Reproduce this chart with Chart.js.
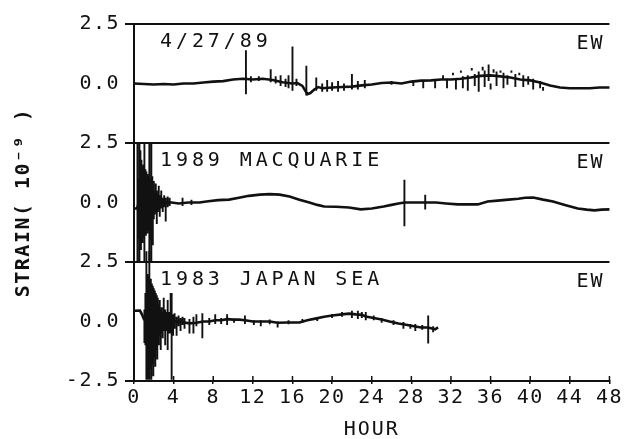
<!DOCTYPE html>
<html lang="en">
<head>
  <meta charset="UTF-8">
  <title>Strain records, EW component</title>
  <script src="https://cdn.jsdelivr.net/npm/chart.js@4.4.3/dist/chart.umd.min.js"></script>
  <style>
    html, body { margin: 0; padding: 0; background: #fff; }
    canvas { display: block; }
  </style>
</head>
<body>
  <canvas id="strain" width="625" height="439"></canvas>
  <script>
    // tick labels / texts
    const hourTicks = [0, 4, 8, 12, 16, 20, 24, 28, 32, 36, 40, 44, 48];
    const strainTicks = [-2.5, 0, 2.5];
    const panelTitles = ['4/27/89', '1989 MACQUARIE', '1983 JAPAN SEA'];
    const component = 'EW';
    const xTitle = 'HOUR';
    const yTitle = 'STRAIN( 10\u207B\u2079 )';

    // --- 4/27/89: slow trace + short vertical spikes (hour, top, bottom) ---
    const apr89Hour = [
      0, 1, 2, 3, 4, 5, 6, 7, 8, 9, 10, 11, 12, 13, 14, 15, 16, 16.5, 17, 17.5,
      17.8, 18.2, 18.6, 19, 20, 21, 22, 23, 24, 25, 26, 27, 28, 29, 30, 31, 32, 33, 34, 35,
      36, 37, 38, 39, 40, 41, 42, 43, 44, 45, 46, 47, 48
    ];
    const apr89Strain = [
      0, -0.02, -0.04, -0.02, -0.04, 0, 0, 0.04, 0.08, 0.1, 0.17, 0.2, 0.17, 0.2, 0.15, 0.05, 0, 0.02, -0.1, -0.45,
      -0.4, -0.25, -0.15, -0.2, -0.17, -0.15, -0.13, -0.08, -0.04, 0.02, 0.04, 0, 0.08, 0.12, 0.13, 0.17, 0.17, 0.2, 0.25, 0.32,
      0.34, 0.3, 0.25, 0.17, 0.13, 0.04, -0.08, -0.17, -0.2, -0.2, -0.2, -0.17, -0.17
    ];
    const apr89SpikeHour = [
      11.3, 11.8, 12.6, 13.8, 14.3, 14.8, 15.3, 15.6, 16.0, 16.4, 17.4, 18.4, 19.0, 19.5, 20.0, 20.6, 21.2, 22.0, 22.6, 23.3,
      26.0, 28.2, 29.2, 30.4, 31.2, 31.6, 32.2, 32.5, 33.0, 33.2, 33.7, 34.1, 34.4, 34.8, 35.2, 35.4, 35.8, 36.0, 36.3, 36.6,
      37.0, 37.3, 37.7, 38.1, 38.5, 38.9, 39.3, 39.8, 40.3, 41.0, 41.3
    ];
    const apr89SpikeTop = [
      1.4, 0.3, 0.3, 0.6, 0.3, 0.35, 0.2, 0.35, 1.55, 0.2, 0.75, 0.25, 0, 0.15, 0.05, 0.1, 0, 0.4, 0.1, 0.15,
      0.1, 0.15, 0.1, 0.15, 0.35, 0.2, 0.45, 0.2, 0.55, 0.3, 0.35, 0.65, 0.4, 0.5, 0.7, 0.55, 0.8, 0, 0.6, 0.5,
      0.55, 0.45, 0.35, 0.55, 0.4, 0.45, 0.35, 0.3, 0.2, 0.1, -0.15
    ];
    const apr89SpikeLow = [
      -0.45, 0.05, 0.1, 0.05, 0, -0.1, -0.15, -0.2, -0.3, -0.1, -0.5, -0.3, -0.35, -0.35, -0.3, -0.35, -0.3, -0.25, -0.25, -0.2,
      -0.05, -0.1, -0.2, -0.2, 0.15, -0.2, 0.35, -0.25, 0.45, -0.2, -0.3, 0.55, -0.1, -0.35, 0.55, -0.15, 0.1, -0.25, 0.45, -0.1,
      0.45, -0.2, -0.05, 0.45, -0.15, 0.35, -0.15, -0.05, -0.25, -0.2, -0.3
    ];

    // --- 1989 Macquarie ---
    const macqHour = [
      0, 0.3, 0.5, 3.8, 4.5, 5.5, 6.6, 7.5, 8.5, 9.6, 10.6, 11.6, 12.7, 13.7, 14.7, 15.7, 16.7, 17.7, 18.5, 19.2,
      20.4, 21.7, 22.9, 24, 25.2, 26, 26.7, 27.3, 28.2, 29.4, 30.5, 31.5, 32.7, 33.7, 34.7, 35.7, 36.7, 37.8, 38.8, 39.5,
      40.3, 41.3, 42.3, 43.5, 44.8, 45.7, 46.5, 47.2, 48
    ];
    const macqStrain = [
      -0.25, -0.25, 0, 0, -0.04, 0, 0, 0.05, 0.1, 0.12, 0.2, 0.28, 0.33, 0.35, 0.33, 0.25, 0.12, 0, -0.1, -0.17,
      -0.18, -0.21, -0.29, -0.25, -0.17, -0.1, -0.04, 0, 0, 0, 0, -0.04, -0.08, -0.08, -0.08, 0.04, 0.08, 0.12, 0.16, 0.2,
      0.21, 0.12, 0.04, -0.1, -0.25, -0.3, -0.33, -0.3, -0.29
    ];
    const macqSpikeHour = [
      0.35, 0.45, 0.55, 0.6, 0.65, 0.7, 0.75, 0.8, 0.85, 0.9, 0.95, 1.0, 1.05, 1.1, 1.15, 1.2, 1.25, 1.3, 1.35, 1.4,
      1.45, 1.5, 1.55, 1.6, 1.65, 1.7, 1.75, 1.8, 1.85, 1.9, 1.95, 2.0, 2.1, 2.2, 2.3, 2.4, 2.5, 2.6, 2.75, 2.9,
      3.05, 3.2, 3.4, 3.6, 4.9, 5.8, 27.3, 29.4
    ];
    const macqSpikeTop = [
      2.5, 1.0, 2.5, 1.6, 2.2, 1.4, 1.8, 1.3, 1.5, 1.2, 1.6, 1.3, 2.5, 1.2, 1.4, 1.1, 1.3, 1.0, 1.2, 0.9,
      1.1, 0.9, 2.5, 0.8, 1.0, 0.8, 2.5, 0.7, 1.1, 0.7, 0.6, 0.9, 0.5, 0.8, 0.5, 0.4, 0.7, 0.3, 0.5, 0.2,
      0.3, 0.2, 0.25, 0.2, 0.2, 0.12, 0.96, 0.33
    ];
    const macqSpikeLow = [
      -2.5, -1.5, -2.5, -1.8, -1.2, -2.0, -1.4, -1.3, -1.7, -1.2, -1.4, -1.5, -2.5, -1.3, -1.1, -1.4, -1.2, -1.0, -1.3, -1.0,
      -1.2, -0.9, -2.5, -1.0, -0.8, -1.6, -2.5, -0.9, -0.7, -1.8, -0.6, -0.7, -0.5, -0.4, -0.9, -0.4, -0.3, -0.6, -0.25, -0.4,
      -0.2, -0.8, -0.2, -0.15, -0.15, -0.1, -1.0, -0.29
    ];

    // --- 1983 Japan Sea ---
    const japanHour = [
      0, 0.6, 0.8, 1.0, 1.3, 4.5, 5.6, 6.3, 7, 7.6, 8.2, 8.8, 9.4, 10, 10.6, 11.2, 12, 12.8, 13.7, 14.5,
      15.5, 16.7, 17.5, 18.3, 19.2, 20, 21, 21.7, 22.4, 23, 23.4, 24.2, 25, 25.8, 26.7, 27.6, 28.4, 29, 29.7, 30.4,
      30.7
    ];
    const japanStrain = [
      0.45, 0.46, 0.3, 0.1, 0, 0, -0.08, -0.05, 0, 0, 0.05, 0.05, 0.1, 0.08, 0.08, 0.05, 0, 0, 0, -0.05,
      -0.04, -0.04, 0.05, 0.12, 0.2, 0.25, 0.3, 0.33, 0.3, 0.28, 0.21, 0.15, 0.08, 0, -0.08, -0.15, -0.21, -0.25, -0.25, -0.33,
      -0.25
    ];
    const japanSpikeHour = [
      1.05, 1.15, 1.25, 1.3, 1.35, 1.4, 1.45, 1.5, 1.55, 1.6, 1.65, 1.7, 1.75, 1.8, 1.85, 1.9, 1.95, 2.0, 2.05, 2.1,
      2.15, 2.2, 2.25, 2.3, 2.35, 2.4, 2.5, 2.6, 2.7, 2.8, 2.9, 3.0, 3.15, 3.3, 3.4, 3.55, 3.7, 3.8, 3.95, 4.1,
      4.3, 4.5, 4.7, 4.9, 5.1, 5.6, 6.0, 6.3, 6.9, 7.6, 8.2, 8.8, 9.4, 10.1, 11.2, 12.1, 12.8, 13.7, 14.5, 15.6,
      17.0, 18.5, 20.0, 21.0, 22.0, 22.6, 23.0, 23.4, 24.2, 25.0, 26.2, 27.2, 27.9, 28.4, 29.1, 29.7, 30.2
    ];
    const japanSpikeTop = [
      0.5, 1.2, 2.95, 1.8, 2.0, 1.5, 1.9, 1.6, 2.95, 1.7, 1.5, 1.8, 1.4, 1.6, 1.3, 1.5, 1.2, 1.4, 1.1, 1.3,
      1.0, 1.2, 0.9, 1.1, 0.8, 1.0, 0.7, 0.9, 0.5, 0.6, 0.4, 1.0, 0.5, 0.4, 0.9, 0.4, 1.2, 1.2, 0.3, 0.35,
      0.2, 0.25, 0.15, 0.2, 0.15, 0.1, 0.2, 0.3, 0.35, 0.15, 0.3, 0.15, 0.3, 0.12, 0.25, 0.05, 0.05, 0.08, 0, 0.05,
      0.1, 0.18, 0.32, 0.4, 0.45, 0.45, 0.4, 0.4, 0.25, 0.15, 0.05, -0.02, -0.1, -0.1, -0.15, 0.25, -0.2
    ];
    const japanSpikeLow = [
      -0.9, -1.0, -2.45, -2.0, -1.5, -2.45, -1.6, -2.2, -2.45, -1.7, -2.0, -1.5, -2.45, -1.4, -1.8, -1.3, -2.3, -1.2, -1.5, -1.0,
      -1.9, -1.0, -1.2, -0.9, -1.6, -0.8, -1.0, -0.6, -1.2, -0.5, -0.7, -0.4, -1.0, -0.4, -1.2, -0.5, -0.5, -2.45, -0.6, -0.3,
      -0.6, -0.2, -0.4, -0.15, -0.3, -0.5, -0.5, -0.2, -0.7, -0.15, -0.1, -0.1, -0.15, -0.05, -0.1, -0.15, -0.2, -0.12, -0.25, -0.12,
      -0.05, 0.02, 0.15, 0.2, 0.15, 0.1, 0.15, 0.05, 0.05, -0.05, -0.15, -0.3, -0.3, -0.4, -0.35, -0.92, -0.45
    ];

    const FONT = '"DejaVu Sans Mono", "Liberation Mono", monospace';
    const INK = '#111';
    const panelIds = ['yApr', 'yMacq', 'yJapan'];

    const toPoints = (hours, vals) => hours.map((h, i) => ({ x: h, y: vals[i] }));
    // each spike is its own vertical segment, separated by a gap
    const toSpikes = (hours, tops, lows) =>
      hours.flatMap((h, i) => [{ x: h, y: tops[i] }, { x: h, y: lows[i] }, { x: h, y: null }]);

    // one stacked y axis per record; top panel gets the highest weight
    const panelScale = (weight, showBottom) => ({
      type: 'linear',
      position: 'left',
      stack: 'records',
      stackWeight: 1,
      weight: weight,
      min: -2.5,
      max: 2.5,
      afterBuildTicks: s => {
        s.ticks = strainTicks
          .filter(v => showBottom || v > -2.5)
          .map(v => ({ value: v }));
      },
      afterFit: s => { s.width = 134; },
      border: { display: true, color: INK, width: 2 },
      grid: {
        drawOnChartArea: true,
        tickLength: 9,
        lineWidth: 2,
        color: c => (c.tick && c.tick.value === 2.5 ? INK : 'rgba(0,0,0,0)'),
        tickColor: c => (c.tick && c.tick.value !== 0 ? INK : 'rgba(0,0,0,0)')
      },
      ticks: {
        color: INK,
        padding: 5,
        font: { family: FONT, size: 20 },
        callback: v => Number(v).toFixed(1)
      }
    });

    const annotate = {
      id: 'annotate',
      beforeUpdate(chart) { chart.ctx.letterSpacing = '1.5px'; },
      afterDraw(chart) {
        const { ctx, chartArea, scales } = chart;
        ctx.save();
        ctx.fillStyle = INK;
        ctx.strokeStyle = INK;
        ctx.textBaseline = 'middle';

        // panel names and component
        panelIds.forEach((id, i) => {
          const s = scales[id];
          ctx.font = '20px ' + FONT;
          ctx.letterSpacing = '3.9px';
          ctx.textAlign = 'left';
          ctx.fillText(panelTitles[i], chartArea.left + 26, s.top + 18);
          ctx.letterSpacing = '2px';
          ctx.textAlign = 'right';
          ctx.fillText(component, chartArea.right - 5, s.top + 20);
        });

        // small inward tick marks on the hour axis
        ctx.lineWidth = 1.5;
        scales.x.ticks.forEach(t => {
          const px = scales.x.getPixelForValue(t.value);
          ctx.beginPath();
          ctx.moveTo(px, chartArea.bottom);
          ctx.lineTo(px, chartArea.bottom - 5);
          ctx.stroke();
        });

        // axis titles
        ctx.font = '20px ' + FONT;
        ctx.letterSpacing = '2px';
        ctx.textAlign = 'center';
        ctx.fillText(xTitle, (chartArea.left + chartArea.right) / 2, 430);

        ctx.font = 'bold 20px ' + FONT;
        ctx.letterSpacing = '1.5px';
        ctx.translate(24, (chartArea.top + chartArea.bottom) / 2);
        ctx.rotate(-Math.PI / 2);
        ctx.fillText(yTitle, 0, 0);
        ctx.restore();
      }
    };

    const traceStyle = { borderColor: INK, borderWidth: 2.6, pointRadius: 0, tension: 0, clip: false, fill: false };
    const spikeStyle = { borderColor: INK, borderWidth: 1.9, pointRadius: 0, tension: 0, clip: false, fill: false, spanGaps: false };

    new Chart(document.getElementById('strain'), {
      type: 'line',
      data: {
        datasets: [
          { label: panelTitles[0], data: toPoints(apr89Hour, apr89Strain), yAxisID: 'yApr', ...traceStyle },
          { label: panelTitles[0] + ' spikes', data: toSpikes(apr89SpikeHour, apr89SpikeTop, apr89SpikeLow), yAxisID: 'yApr', ...spikeStyle },
          { label: panelTitles[1], data: toPoints(macqHour, macqStrain), yAxisID: 'yMacq', ...traceStyle },
          { label: panelTitles[1] + ' spikes', data: toSpikes(macqSpikeHour, macqSpikeTop, macqSpikeLow), yAxisID: 'yMacq', ...spikeStyle },
          { label: panelTitles[2], data: toPoints(japanHour, japanStrain), yAxisID: 'yJapan', ...traceStyle },
          { label: panelTitles[2] + ' spikes', data: toSpikes(japanSpikeHour, japanSpikeTop, japanSpikeLow), yAxisID: 'yJapan', ...spikeStyle }
        ]
      },
      options: {
        responsive: false,
        animation: false,
        layout: { padding: { top: 24, right: 13, left: 0, bottom: 0 } },
        plugins: { legend: { display: false }, tooltip: { enabled: false } },
        scales: {
          x: {
            type: 'linear',
            min: 0,
            max: 48,
            afterBuildTicks: s => { s.ticks = hourTicks.map(v => ({ value: v })); },
            afterFit: s => { s.height = 58; },
            border: { display: true, color: INK, width: 2 },
            grid: { drawOnChartArea: false, drawTicks: true, tickLength: 3, color: INK, lineWidth: 1.5 },
            ticks: {
              color: INK,
              padding: 2,
              maxRotation: 0,
              autoSkip: false,
              font: { family: FONT, size: 20 }
            }
          },
          yApr: panelScale(3, false),
          yMacq: panelScale(2, false),
          yJapan: panelScale(1, true)
        }
      },
      plugins: [annotate]
    });
  </script>
</body>
</html>
